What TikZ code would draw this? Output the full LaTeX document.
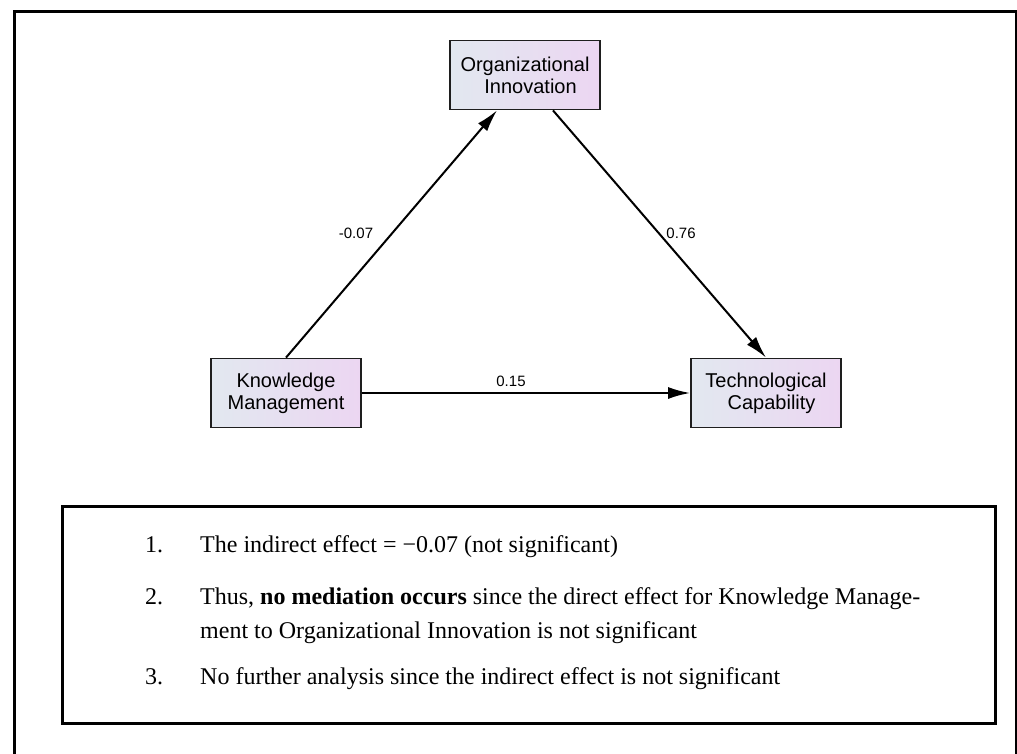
\documentclass[tikz,border=0pt]{standalone}
\usepackage{fontspec}
\setmainfont{Liberation Serif}
\newfontfamily\boxfont{Liberation Sans}
\usepackage{xcolor}
\usetikzlibrary{arrows.meta,positioning}
\definecolor{BoxLeft}{RGB}{226,232,240}
\definecolor{BoxRight}{RGB}{236,214,242}
\definecolor{Edge}{RGB}{30,30,30}
\tikzset{
  varbox/.style={draw=Edge,line width=1.8pt,left color=BoxLeft,right color=BoxRight,minimum width=150pt,minimum height=69pt,align=center,font=\boxfont\fontsize{20}{22}\selectfont},
  path/.style={-{Latex[length=22pt,width=12pt]},line width=2pt,draw=black},
  coef/.style={font=\boxfont\fontsize{15}{17}\selectfont,inner sep=0pt},
  note/.style={anchor=base west,inner sep=0pt,font=\fontsize{24}{28}\selectfont}
}
\begin{document}
\begin{tikzpicture}[x=1pt,y=-1pt]
\useasboundingbox (0,0) rectangle (1017,754);
% outer frame, open at the bottom
\draw[line width=3pt] (14,754) -- (14,12) -- (1016,12) -- (1016,754);
% model
\node[varbox] (oi) at (525,75) {Organizational\\\ \ Innovation};
\node[varbox] (km) at (286,393) {Knowledge\\Management};
\node[varbox] (tc) at (766,393) {Technological\\\ \ Capability};
\draw[path] (km.north) -- ([xshift=-28pt]oi.south);
\draw[path] ([xshift=28pt]oi.south) -- (tc.north);
\draw[path] (km.east) -- (tc.west);
\node[coef] (a) at (356,233) {-0.07};
\node[coef] (b) at (681,233) {0.76};
\node[coef] (c) at (511,381) {0.15};
% notes
\draw[line width=3pt] (62,506) rectangle (995,723);
\node[note] (n1) at (145,552) {1.};
\node[note] (t1) at (200,552) {The indirect effect = −0.07 (not significant)};
\node[note] (n2) at (145,604) {2.};
\node[note] (t2) at (200,604) {Thus, \textbf{no mediation occurs} since the direct effect for Knowledge Manage-};
\node[note] (t2b) at (200,638) {ment to Organizational Innovation is not significant};
\node[note] (n3) at (145,684) {3.};
\node[note] (t3) at (200,684) {No further analysis since the indirect effect is not significant};
\end{tikzpicture}
\end{document}
